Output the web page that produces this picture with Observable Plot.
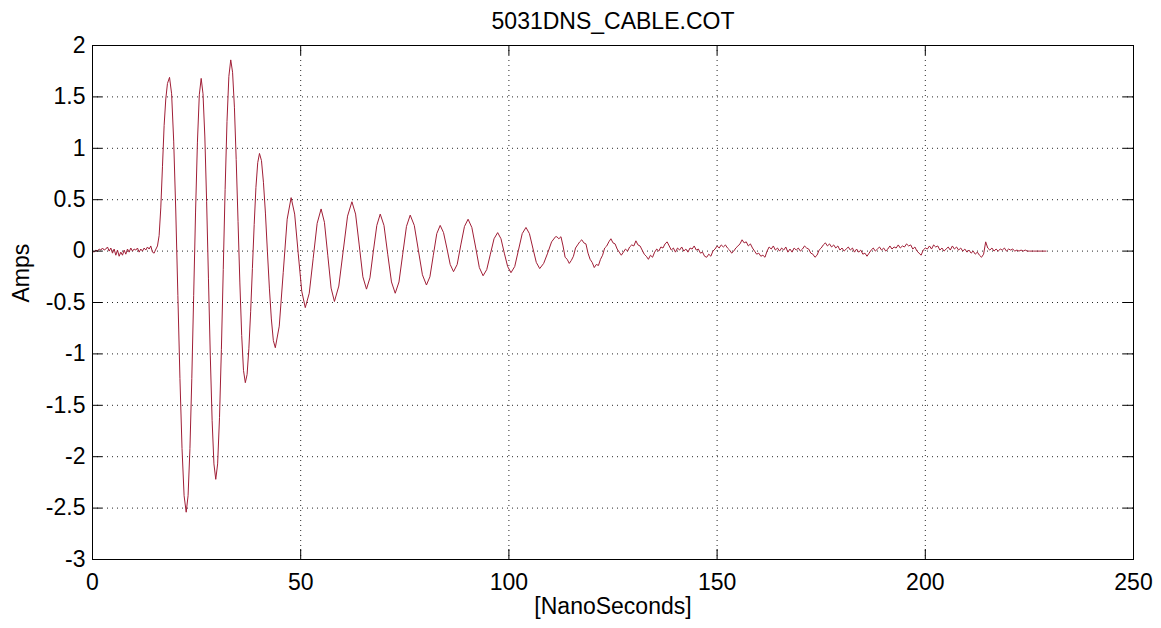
<!DOCTYPE html>
<html>
<head>
<meta charset="utf-8">
<script src="https://cdn.jsdelivr.net/npm/d3@7"></script>
<script src="https://cdn.jsdelivr.net/npm/@observablehq/plot@0.6"></script>
<style>
  html, body { margin: 0; padding: 0; background: #fff; }
  #chart svg { display: block; }
</style>
</head>
<body>
<div id="chart"></div>
<script>
// Cable current transient: 5031DNS_CABLE.COT

const title = "5031DNS_CABLE.COT";
const xLabel = "[NanoSeconds]";
const yLabel = "Amps";

const xTicks = [0, 50, 100, 150, 200, 250];
const yTicks = [2, 1.5, 1, 0.5, 0, -0.5, -1, -1.5, -2, -2.5, -3];

// Baseline before the pulse arrives
const preTime = [0.0, 0.4, 0.8, 1.2, 1.6, 2.0, 2.4, 2.8, 3.2, 3.6,
                 4.0, 4.4, 4.8, 5.2, 5.6, 6.0, 6.4, 6.8, 7.2, 7.6,
                 8.0, 8.4, 8.8, 9.2, 9.6, 10.0, 10.4, 10.8, 11.2, 11.6,
                 12.0, 12.4, 12.8, 13.2, 13.6, 14.0, 14.4, 14.8];
const preAmps = [0.00, -0.01, 0.01, 0.00, 0.02, 0.01, 0.03, 0.01, 0.02, 0.04,
                 0.00, 0.03, -0.02, 0.02, -0.04, 0.01, -0.05, -0.01, -0.04, 0.01,
                 -0.03, 0.02, -0.01, 0.03, 0.00, 0.02, 0.01, 0.03, -0.01, 0.02,
                 0.00, 0.03, 0.01, 0.04, 0.02, 0.05, -0.01, -0.02];

// Damped ringing after the pulse
const ringTime = [15.0, 15.6, 16.0, 16.4, 16.8, 17.2, 17.6, 18.0, 18.5,
                  19.0, 19.5, 20.0, 20.5, 21.0, 21.5, 22.0, 22.5,
                  22.95, 23.4, 23.85, 24.3, 24.75, 25.2, 25.65, 26.1,
                  26.54, 26.98, 27.41, 27.85, 28.29, 28.73, 29.16, 29.6,
                  30.05, 30.5, 30.95, 31.4, 31.85, 32.3, 32.75, 33.2,
                  33.64, 34.08, 34.51, 34.95, 35.39, 35.83, 36.26, 36.7,
                  37.13, 37.55, 37.98, 38.4, 38.83, 39.25, 39.68, 40.1,
                  40.58, 41.05, 41.53, 42.0, 42.48, 42.95, 43.43, 43.9,
                  44.85, 45.8, 46.75, 47.7,
                  48.55, 49.4, 50.25, 51.1,
                  52.05, 53.0, 53.95, 54.9,
                  55.7, 56.5, 57.3, 58.1,
                  59.15, 60.2, 61.25, 62.3,
                  63.18, 64.05, 64.93, 65.8,
                  66.63, 67.45, 68.28, 69.1,
                  70.0, 70.9, 71.8, 72.7,
                  73.6, 74.5, 75.4, 76.3,
                  77.28, 78.25, 79.23, 80.2,
                  81.03, 81.85, 82.68, 83.5,
                  84.3, 85.1, 85.9, 86.7,
                  87.58, 88.45, 89.33, 90.2,
                  91.1, 92.0, 92.9, 93.8,
                  94.68, 95.55, 96.43, 97.3,
                  98.1, 98.9, 99.7, 100.5,
                  101.4, 102.3, 103.2, 104.1,
                  104.93, 105.75, 106.58, 107.4,
                  108.35, 109.3, 110.25, 111.2];
const ringAmps = [0.00, 0.05, 0.15, 0.42, 0.82, 1.22, 1.48, 1.63, 1.69,
                  1.53, 1.07, 0.39, -0.43, -1.24, -1.92, -2.38, -2.54,
                  -2.38, -1.92, -1.24, -0.43, 0.38, 1.06, 1.52, 1.68,
                  1.53, 1.11, 0.48, -0.27, -1.02, -1.65, -2.07, -2.22,
                  -2.07, -1.62, -0.96, -0.18, 0.60, 1.26, 1.70, 1.86,
                  1.74, 1.40, 0.89, 0.29, -0.31, -0.82, -1.16, -1.28,
                  -1.20, -0.95, -0.59, -0.17, 0.26, 0.62, 0.86, 0.95,
                  0.88, 0.67, 0.37, 0.00, -0.36, -0.66, -0.87, -0.94,
                  -0.73, -0.21, 0.31, 0.52,
                  0.36, -0.02, -0.39, -0.55,
                  -0.41, -0.07, 0.27, 0.41,
                  0.28, -0.04, -0.36, -0.49,
                  -0.34, 0.00, 0.34, 0.48,
                  0.36, 0.06, -0.25, -0.37,
                  -0.26, 0.00, 0.25, 0.36,
                  0.25, -0.03, -0.30, -0.41,
                  -0.30, -0.03, 0.24, 0.35,
                  0.25, 0.01, -0.23, -0.33,
                  -0.25, -0.04, 0.17, 0.25,
                  0.18, 0.03, -0.13, -0.20,
                  -0.13, 0.06, 0.24, 0.31,
                  0.23, 0.04, -0.16, -0.24,
                  -0.18, -0.03, 0.12, 0.18,
                  0.12, -0.02, -0.15, -0.21,
                  -0.15, 0.01, 0.17, 0.23,
                  0.17, 0.03, -0.11, -0.17,
                  -0.12, -0.02, 0.09, 0.14];

// Noisy tail as the ringing dies out
const tailTime = [111.5, 112.0, 112.5, 113.0, 113.5, 114.0, 114.5, 115.0, 115.5, 116.0,
                  116.5, 117.0, 117.5, 118.0, 118.5, 119.0, 119.5, 120.0, 120.5, 121.0,
                  121.5, 122.0, 122.5, 123.0, 123.5, 124.0, 124.5, 125.0, 125.5, 126.0,
                  126.5, 127.0, 127.5, 128.0, 128.5, 129.0, 129.5, 130.0, 130.5, 131.0,
                  131.5, 132.0, 132.5, 133.0, 133.5, 134.0, 134.5, 135.0, 135.5, 136.0,
                  136.5, 137.0, 137.5, 138.0, 138.5, 139.0, 139.5, 140.0, 140.5, 141.0,
                  141.5, 142.0, 142.5, 143.0, 143.5, 144.0, 144.5, 145.0, 145.5, 146.0,
                  146.5, 147.0, 147.5, 148.0, 148.5, 149.0, 149.5, 150.0, 150.5, 151.0,
                  151.5, 152.0, 152.5, 153.0, 153.5, 154.0, 154.5, 155.0, 155.5, 156.0,
                  156.5, 157.0, 157.5, 158.0, 158.5, 159.0, 159.5, 160.0, 160.5, 161.0,
                  161.5, 162.0, 162.5, 163.0, 163.5, 164.0, 164.5, 165.0, 165.5, 166.0,
                  166.5, 167.0, 167.5, 168.0, 168.5, 169.0, 169.5, 170.0, 170.5, 171.0,
                  171.5, 172.0, 172.5, 173.0, 173.5, 174.0, 174.5, 175.0, 175.5, 176.0,
                  176.5, 177.0, 177.5, 178.0, 178.5, 179.0, 179.5, 180.0, 180.5, 181.0,
                  181.5, 182.0, 182.5, 183.0, 183.5, 184.0, 184.5, 185.0, 185.5, 186.0,
                  186.5, 187.0, 187.5, 188.0, 188.5, 189.0, 189.5, 190.0, 190.5, 191.0,
                  191.5, 192.0, 192.5, 193.0, 193.5, 194.0, 194.5, 195.0, 195.5, 196.0,
                  196.5, 197.0, 197.5, 198.0, 198.5, 199.0, 199.5, 200.0, 200.5, 201.0,
                  201.5, 202.0, 202.5, 203.0, 203.5, 204.0, 204.5, 205.0, 205.5, 206.0,
                  206.5, 207.0, 207.5, 208.0, 208.5, 209.0, 209.5, 210.0, 210.5, 211.0,
                  211.5, 212.0, 212.5, 213.0, 213.5, 214.0, 214.5, 215.0, 215.5, 216.0,
                  216.5, 217.0, 217.5, 218.0, 218.5, 219.0, 219.5, 220.0, 220.5, 221.0,
                  221.5, 222.0, 222.5, 223.0, 223.5, 224.0, 224.5, 225.0,
                  226.0, 227.0, 228.0, 229.0];
const tailAmps = [0.14, 0.12, 0.14, 0.05, -0.06, -0.08, -0.12, -0.09, -0.05, 0.03,
                  0.06, 0.09, 0.11, 0.08, 0.07, -0.02, -0.08, -0.11, -0.16, -0.13,
                  -0.14, -0.08, -0.04, 0.03, 0.05, 0.09, 0.12, 0.08, 0.07, 0.02,
                  -0.01, -0.04, -0.01, 0.02, 0.00, 0.04, 0.06, 0.05, 0.10, 0.06,
                  0.05, 0.01, -0.03, -0.05, -0.08, -0.04, -0.06, -0.01, 0.02, 0.00,
                  0.04, 0.03, 0.07, 0.09, 0.05, 0.01, 0.03, -0.01, 0.03, 0.01,
                  0.04, 0.00, 0.02, -0.01, 0.03, 0.02, 0.05, 0.01, 0.02, -0.02,
                  -0.01, -0.05, -0.06, -0.03, -0.05, 0.00, 0.02, 0.05, 0.03, 0.06,
                  0.04, 0.06, 0.03, 0.01, -0.02, 0.00, 0.03, 0.05, 0.07, 0.11,
                  0.08, 0.09, 0.05, 0.07, 0.03, 0.00, -0.03, -0.02, -0.05, -0.04,
                  -0.06, 0.00, 0.04, 0.02, 0.05, 0.01, 0.03, 0.00, 0.03, 0.01,
                  0.04, -0.01, 0.02, -0.01, 0.03, 0.01, 0.03, 0.00, 0.02, 0.05,
                  0.03, 0.02, -0.02, -0.03, -0.06, -0.04, 0.01, 0.03, 0.06, 0.08,
                  0.05, 0.07, 0.04, 0.06, 0.03, 0.05, 0.01, 0.03, 0.00, 0.02,
                  0.04, 0.01, 0.03, -0.01, 0.02, -0.01, 0.01, -0.03, -0.02, -0.05,
                  -0.02, 0.01, 0.03, 0.00, 0.02, 0.04, 0.01, 0.03, 0.00, 0.02,
                  0.05, 0.02, 0.04, 0.03, 0.06, 0.03, 0.05, 0.04, 0.07, 0.05,
                  0.06, 0.02, 0.04, 0.00, -0.02, -0.04, 0.01, 0.03, 0.02, 0.05,
                  0.02, 0.06, 0.04, 0.05, 0.01, 0.03, 0.00, 0.02, 0.04, 0.01,
                  0.05, 0.02, 0.04, 0.01, 0.03, 0.00, 0.02, -0.01, 0.01, -0.02,
                  0.00, -0.03, -0.01, -0.04, -0.06, -0.03, 0.09, 0.03, 0.01, 0.03,
                  0.00, 0.02, 0.00, 0.02, 0.01, 0.03, 0.00, 0.02, 0.01, 0.02,
                  0.00, 0.01, 0.00, 0.01, 0.00, 0.01, 0.00, 0.00,
                  0.00, 0.00, 0.00, 0.00];

const trace = [
  ...preTime.map((t, i) => ({t, a: preAmps[i]})),
  ...ringTime.map((t, i) => ({t, a: ringAmps[i]})),
  ...tailTime.map((t, i) => ({t, a: tailAmps[i]}))
];

const W = 1161, H = 628;
const mL = 92, mR = 28, mT = 45, mB = 69;
const innerW = W - mL - mR, innerH = H - mT - mB;
const tickLen = 10;
const font = "'Liberation Sans', Arial, Helvetica, sans-serif";
const fs = 23;
const traceColor = "#a01e36";
const gridStyle = {stroke: "#000", strokeOpacity: 0.85, strokeDasharray: "1,4", strokeWidth: 1};
const fmt = d => String(d);

const chart = Plot.plot({
  width: W,
  height: H,
  marginLeft: mL,
  marginRight: mR,
  marginTop: mT,
  marginBottom: mB,
  style: {fontFamily: font, fontSize: fs + "px", color: "#000", background: "#fff"},
  x: {domain: [0, 250]},
  y: {domain: [-3, 2]},
  marks: [
    Plot.gridX(xTicks, gridStyle),
    Plot.gridY(yTicks, gridStyle),
    Plot.line(trace, {x: "t", y: "a", stroke: traceColor, strokeWidth: 1}),
    // inward ticks on all four sides of the box
    Plot.tickX(xTicks, {x: d => d, insetTop: innerH - tickLen, stroke: "#000"}),
    Plot.tickX(xTicks, {x: d => d, insetBottom: innerH - tickLen, stroke: "#000"}),
    Plot.tickY(yTicks, {y: d => d, insetRight: innerW - tickLen, stroke: "#000"}),
    Plot.tickY(yTicks, {y: d => d, insetLeft: innerW - tickLen, stroke: "#000"}),
    Plot.frame({stroke: "#000", strokeWidth: 1}),
    Plot.axisX(xTicks, {tickSize: 0, tickPadding: 14, label: null, tickFormat: fmt, fontSize: fs}),
    Plot.axisY(yTicks, {tickSize: 0, tickPadding: 7, label: null, tickFormat: fmt, fontSize: fs}),
    Plot.text([title], {text: d => d, frameAnchor: "top", dy: -17, lineAnchor: "bottom", fontSize: fs}),
    Plot.text([xLabel], {text: d => d, frameAnchor: "bottom", dy: 54, lineAnchor: "bottom", fontSize: fs}),
    Plot.text([yLabel], {text: d => d, frameAnchor: "left", dx: -64, rotate: -90, lineAnchor: "bottom", fontSize: fs})
  ]
});

document.getElementById("chart").appendChild(chart);
</script>
</body>
</html>
